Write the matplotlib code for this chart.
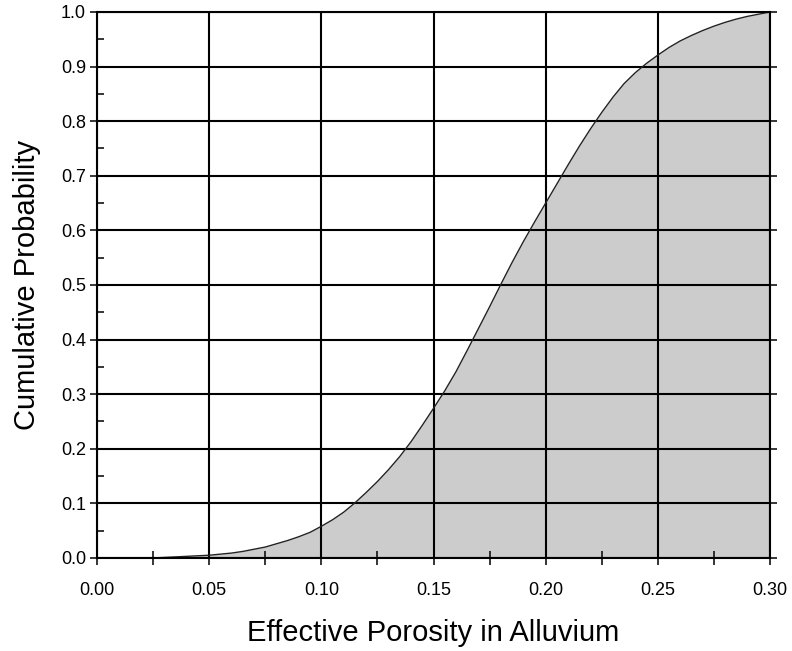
import matplotlib.pyplot as plt
import numpy as np

# porosity values and cumulative probability
porosity = [0.025, 0.03, 0.035, 0.04, 0.045, 0.05, 0.055, 0.06, 0.065, 0.07,
            0.075, 0.08, 0.085, 0.09, 0.095, 0.10, 0.105, 0.11, 0.115, 0.12,
            0.125, 0.13, 0.135, 0.14, 0.145, 0.15, 0.155, 0.16, 0.165, 0.17,
            0.175, 0.18, 0.185, 0.19, 0.195, 0.20, 0.205, 0.21, 0.215, 0.22,
            0.225, 0.23, 0.235, 0.24, 0.245, 0.25, 0.255, 0.26, 0.265, 0.27,
            0.275, 0.28, 0.285, 0.29, 0.295, 0.30]
cum_prob = [0.0, 0.001, 0.002, 0.003, 0.004, 0.005, 0.007, 0.009, 0.012, 0.016,
            0.020, 0.026, 0.032, 0.039, 0.047, 0.058, 0.070, 0.084, 0.101, 0.120,
            0.140, 0.162, 0.186, 0.213, 0.243, 0.274, 0.306, 0.341, 0.380, 0.420,
            0.460, 0.501, 0.541, 0.579, 0.615, 0.650, 0.685, 0.720, 0.754, 0.786,
            0.816, 0.844, 0.869, 0.889, 0.906, 0.921, 0.935, 0.947, 0.957, 0.966,
            0.974, 0.981, 0.987, 0.992, 0.996, 1.0]

xticks = [0.00, 0.05, 0.10, 0.15, 0.20, 0.25, 0.30]
xticklabels = ['0.00', '0.05', '0.10', '0.15', '0.20', '0.25', '0.30']
yticks = [round(0.1 * k, 1) for k in range(11)]

plt.rcParams['font.family'] = ['Liberation Sans', 'DejaVu Sans']

fig = plt.figure(figsize=(7.92, 6.51), dpi=100)
ax = fig.add_axes([0.1225, 0.1429, 0.8497, 0.8387])

ax.fill_between(porosity, cum_prob, 0, color='#cccccc', lw=0, zorder=1)
ax.plot(porosity, cum_prob, color='#222222', lw=1.0, zorder=3)

ax.set_xlim(0, 0.30)
ax.set_ylim(0, 1.0)

ax.set_xticks(xticks)
ax.set_xticklabels(xticklabels)
ax.set_xticks(np.arange(0.025, 0.30, 0.05), minor=True)
ax.set_yticks(yticks)
ax.set_yticklabels([f'{v:.1f}' for v in yticks])
ax.set_yticks(np.arange(0.05, 1.0, 0.1), minor=True)

ax.grid(True, which='major', color='black', lw=1.5, zorder=2)
ax.set_axisbelow(False)

ax.tick_params(axis='x', which='major', direction='inout', length=10, width=1.1,
               labelsize=13, pad=12)
ax.tick_params(axis='x', which='minor', direction='inout', length=10, width=1.1)
ax.tick_params(axis='y', which='major', direction='out', length=5, width=1.1,
               labelsize=13, pad=3, right=True)
ax.tick_params(axis='y', which='minor', direction='in', length=5, width=1.1)

for s in ax.spines.values():
    s.set_linewidth(1.5)
    s.set_zorder(4)

ax.set_xlabel('Effective Porosity in Alluvium', fontsize=21, labelpad=15)
ax.set_ylabel('Cumulative Probability', fontsize=21, labelpad=14)

fig.savefig('out.png', dpi=100)
